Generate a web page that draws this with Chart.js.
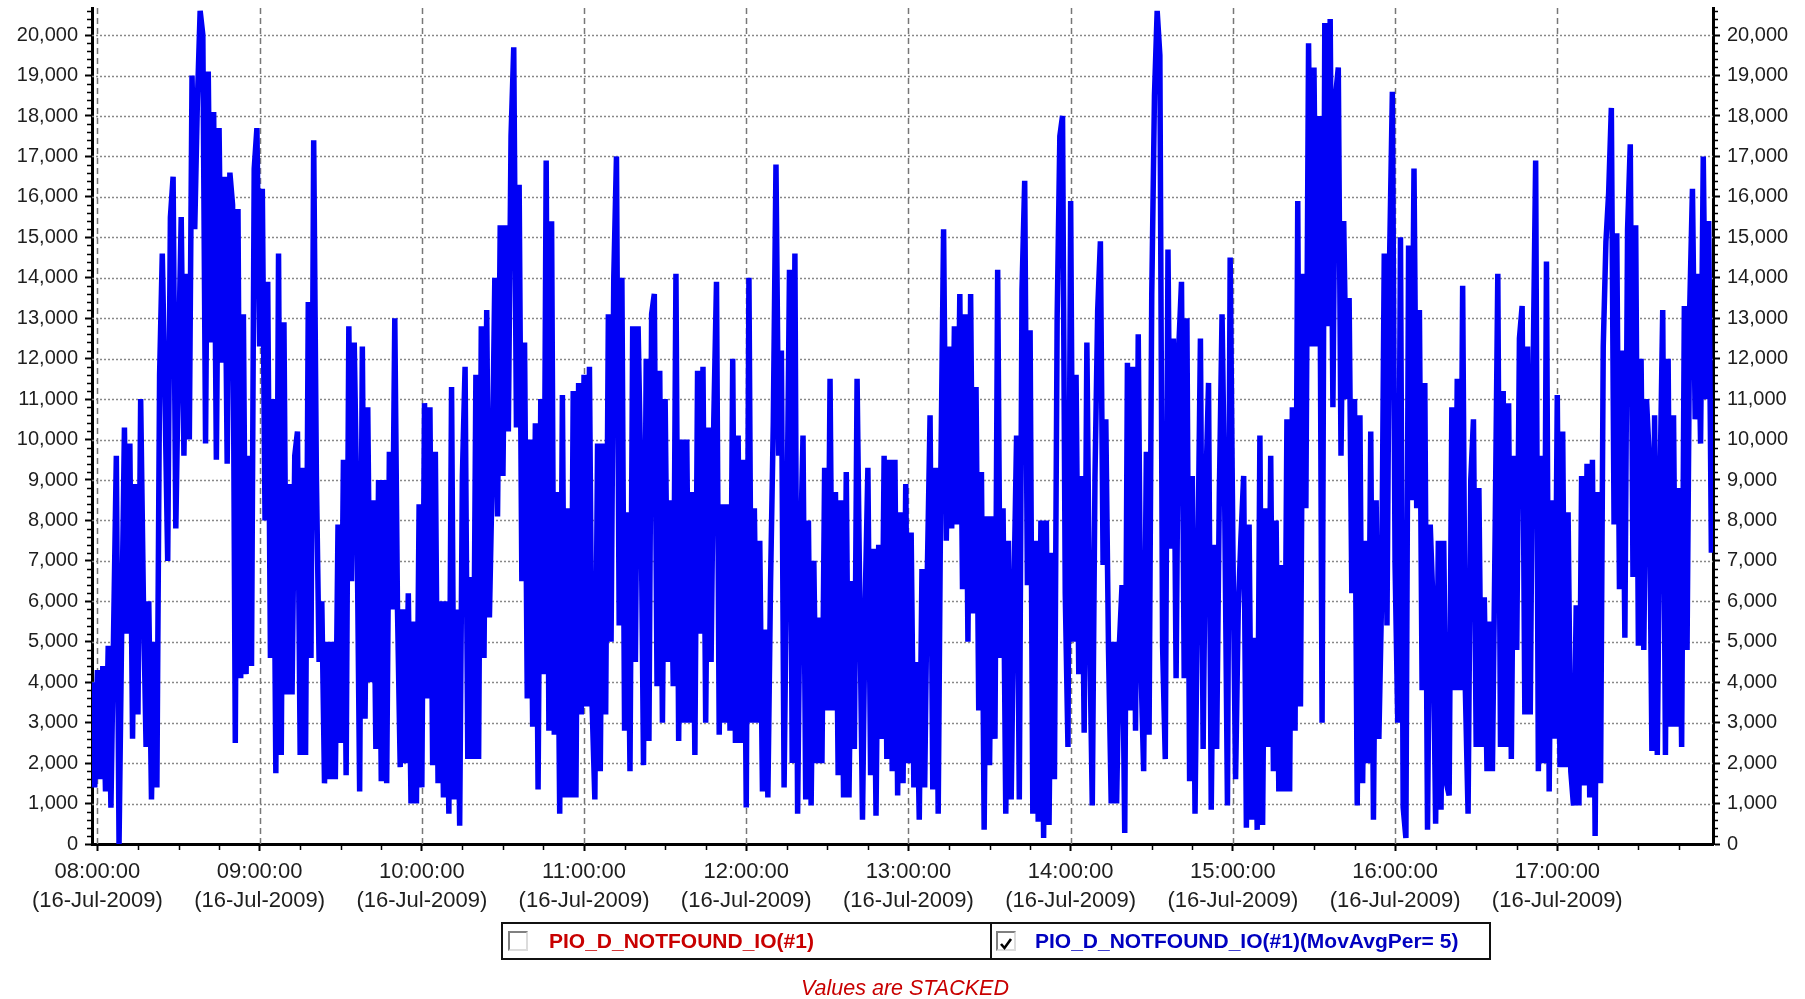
<!DOCTYPE html>
<html>
<head>
<meta charset="utf-8">
<title>PIO_D_NOTFOUND_IO</title>
<script src="https://cdn.jsdelivr.net/npm/chart.js@4.4.0/dist/chart.umd.min.js"></script>
<style>
  html, body { margin: 0; padding: 0; background: #fff; }
  #wrap { position: relative; width: 1805px; height: 999px; overflow: hidden; }
  #chart { position: absolute; left: 0; top: 0; }
  #legend {
    position: absolute; left: 501px; top: 922px; width: 986px; height: 34px;
    border: 2px solid #111; display: flex;
    font: bold 21px "Liberation Sans", Arial, sans-serif;
  }
  .cell { position: relative; height: 34px; box-sizing: border-box; }
  .cell.first { width: 489px; border-right: 2px solid #111; color: #c80000; }
  .cell.second { flex: 1; color: #0000c0; }
  .box {
    position: absolute; top: 7px; width: 16px; height: 16px; background: #fff;
    border-top: 2px solid #808080; border-left: 2px solid #808080;
    border-bottom: 2px solid #dcdcdc; border-right: 2px solid #dcdcdc;
  }
  .label { position: absolute; top: 0; line-height: 34px; white-space: nowrap; }
  #note {
    position: absolute; left: 700px; width: 410px; top: 976px; text-align: center;
    font: italic 21.5px "Liberation Sans", Arial, sans-serif; color: #c80000;
  }
</style>
</head>
<body>
<div id="wrap">
  <canvas id="chart" width="1805" height="999"></canvas>
  <div id="legend">
    <div class="cell first">
      <div class="box" style="left:5px"></div>
      <div class="label" style="left:46px">PIO_D_NOTFOUND_IO(#1)</div>
    </div>
    <div class="cell second">
      <div class="box" style="left:4px">
        <svg width="16" height="16" viewBox="0 0 16 16"><path d="M3 8 L6.5 12 L13 3" fill="none" stroke="#000" stroke-width="2.6"/></svg>
      </div>
      <div class="label" style="left:43px">PIO_D_NOTFOUND_IO(#1)(MovAvgPer= 5)</div>
    </div>
  </div>
  <div id="note">Values are STACKED</div>
</div>
<script>
// minutes after midnight of the first sample (07:58), one sample per minute
var startMinute = 478;
var xMin = 478, xMax = 1077.6;
var yMax = 20670;

var hourTicks = [480, 540, 600, 660, 720, 780, 840, 900, 960, 1020];
var hourLabels = ['08:00:00', '09:00:00', '10:00:00', '11:00:00', '12:00:00',
                  '13:00:00', '14:00:00', '15:00:00', '16:00:00', '17:00:00'];
var dateLabel = '(16-Jul-2009)';
var yTicks = [0, 1000, 2000, 3000, 4000, 5000, 6000, 7000, 8000, 9000, 10000,
              11000, 12000, 13000, 14000, 15000, 16000, 17000, 18000, 19000, 20000];

// PIO_D_NOTFOUND_IO(#1)(MovAvgPer= 5), 07:58 .. 17:57
var movAvg = [
  4000, 1400,
  4300, 1600, 4400, 1300, 4900, 900, 5300, 9600, 0, 5400,
  10300, 5200, 9900, 2600, 8900, 3200, 11000, 6100, 2400, 6000,
  1100, 5000, 1400, 11600, 14600, 11000, 7000, 15500, 16500, 7800,
  12000, 15500, 9600, 14100, 10000, 19000, 15200, 18400, 20600, 20000,
  9900, 19100, 12400, 18100, 9500, 17700, 11900, 16500, 9400, 16600,
  15800, 2500, 15700, 4100, 13100, 4200, 9600, 4400, 16700, 17700,
  12300, 16200, 8000, 13900, 4600, 11000, 1750, 14600, 2200, 12900,
  3700, 8900, 3700, 9600, 10200, 2200, 9300, 2200, 13400, 4600,
  17400, 9100, 4500, 6000, 1500, 5000, 1600, 5000, 1600, 7900,
  2500, 9500, 1700, 12800, 6500, 12400, 8200, 1300, 12300, 3100,
  10800, 4000, 8500, 2350, 9000, 1550, 9000, 1500, 9700, 5800,
  13000, 5800, 1900, 5800, 2000, 6200, 1000, 5500, 1000, 8400,
  1400, 10900, 3600, 10800, 1950, 9700, 1500, 6000, 1150, 6000,
  750, 11300, 1100, 5800, 450, 9100, 11800, 2100, 6600, 2100,
  11600, 2100, 12800, 4600, 13200, 5600, 9000, 14000, 8100, 15300,
  9100, 15300, 10200, 17500, 19700, 10300, 16300, 6500, 12400, 3600,
  10000, 2900, 10400, 1350, 11000, 4200, 16900, 2800, 15400, 2700,
  8700, 750, 11100, 1150, 8300, 1150, 11200, 1150, 11400, 3200,
  11600, 3400, 11800, 3400, 1100, 9900, 1800, 9900, 3200, 13100,
  5000, 14000, 17000, 5400, 14000, 2800, 8200, 1800, 12800, 4500,
  12800, 9100, 1950, 12000, 2550, 13100, 13600, 3900, 11700, 3000,
  11000, 4500, 8500, 3900, 14100, 2550, 10000, 3000, 10000, 3000,
  8700, 2200, 11700, 5200, 11800, 3000, 10300, 4500, 10500, 13900,
  2700, 8400, 3000, 8400, 2800, 12000, 2500, 10100, 2500, 9500,
  900, 14000, 3000, 8300, 3000, 7500, 1300, 5300, 1150, 6500,
  10400, 16800, 9600, 12200, 1400, 7500, 14200, 2000, 14600, 750,
  7000, 10100, 1100, 8000, 950, 7000, 2000, 5600, 2000, 9300,
  3300, 11500, 3300, 8700, 1700, 8500, 1150, 9200, 1150, 6500,
  2350, 11500, 6000, 600, 6000, 9300, 1700, 7300, 700, 7400,
  2600, 9600, 2100, 9500, 1800, 9500, 1200, 8200, 1500, 8900,
  2000, 7700, 1400, 4500, 600, 6800, 1400, 6800, 10600, 1350,
  9300, 750, 9300, 15200, 7500, 12300, 7800, 12800, 7900, 13600,
  6300, 13100, 5000, 13600, 5700, 11300, 3300, 9200, 350, 8100,
  1950, 8100, 2600, 14200, 4600, 8300, 750, 7500, 1100, 6200,
  10100, 1100, 13700, 16400, 6400, 12700, 750, 7500, 550, 8000,
  150, 8000, 470, 7200, 1600, 13000, 17500, 18000, 6200, 2400,
  15900, 5000, 11600, 4200, 9100, 2750, 12400, 5400, 950, 9100,
  13200, 14900, 6900, 10500, 4800, 1000, 5000, 1000, 4900, 6400,
  270, 11900, 3300, 11800, 2800, 12600, 4400, 1800, 9700, 2700,
  13600, 18500, 20600, 19500, 4900, 2100, 14700, 7300, 12500, 4100,
  12300, 13900, 4100, 13000, 1550, 9100, 750, 6700, 12500, 2350,
  8800, 11400, 850, 7400, 2350, 8700, 13100, 8300, 950, 14500,
  7400, 1600, 5800, 7600, 9100, 400, 7900, 600, 5100, 350,
  10100, 470, 8300, 2400, 9600, 1800, 8000, 1300, 6900, 1300,
  10500, 1300, 10800, 2800, 15900, 3400, 14100, 8300, 19800, 12300,
  19200, 12300, 18000, 3000, 20300, 12800, 20400, 10800, 18500, 19200,
  9600, 15400, 11000, 13500, 6200, 11000, 950, 10600, 1500, 7500,
  2000, 10200, 600, 8500, 2600, 6000, 14600, 5400, 14600, 18600,
  6900, 3000, 15000, 900, 150, 14800, 8500, 16700, 8300, 13200,
  3800, 11400, 350, 7900, 6000, 500, 7500, 850, 7500, 1500,
  1200, 10800, 3800, 11500, 3800, 13800, 3800, 750, 9000, 10500,
  2400, 8800, 2400, 6100, 1800, 5500, 1800, 7600, 14100, 2400,
  11200, 2400, 10900, 2100, 9600, 4800, 12500, 13300, 3200, 12300,
  3200, 11400, 16900, 1800, 9600, 2000, 14400, 1300, 8500, 2600,
  11100, 1900, 10200, 1900, 8200, 1800, 950, 5900, 950, 9100,
  1450, 9400, 1150, 9500, 200, 8700, 1500, 12300, 14900, 16100,
  18200, 7900, 15100, 6300, 12200, 5100, 15200, 17300, 6600, 15300,
  4900, 12000, 4800, 11000, 9600, 2300, 10600, 2200, 8900, 13200,
  2200, 12000, 2900, 10600, 2900, 8800, 2400, 13300, 4800, 13300,
  16200, 10500, 14100, 9900, 17000, 11000, 15400, 7200
];

var tickFont = { family: '"Liberation Sans", Arial, sans-serif', size: 20 };

function yAxis(pos) {
  return {
    type: 'linear', position: pos, min: 0, max: yMax,
    afterBuildTicks: function(s) { s.ticks = yTicks.map(function(v){ return {value: v}; }); },
    afterFit: function(s) { s.width = 92; s.paddingTop = 0; s.paddingBottom = 0; },
    grid: { drawOnChartArea: false, drawTicks: true, tickLength: 7, tickColor: '#000', tickWidth: 2 },
    border: { display: true, color: '#000', width: 3 },
    ticks: {
      autoSkip: false, padding: 7, color: '#1e1e1e', font: tickFont,
      callback: function(v) { return Number(v).toLocaleString('en-US'); }
    }
  };
}

var gridLines = {
  id: 'gridLines',
  beforeDatasetsDraw: function(chart) {
    var ctx = chart.ctx, a = chart.chartArea, x = chart.scales.x, y = chart.scales.y;
    ctx.save();
    ctx.lineWidth = 1.5;
    ctx.strokeStyle = '#888';
    ctx.setLineDash([2, 2]);
    yTicks.forEach(function(v) {
      if (v === 0) return;
      var py = Math.round(y.getPixelForValue(v)) + 0.5;
      ctx.beginPath(); ctx.moveTo(a.left, py); ctx.lineTo(a.right, py); ctx.stroke();
    });
    ctx.strokeStyle = '#777';
    ctx.setLineDash([6, 4]);
    hourTicks.forEach(function(v) {
      var px = Math.round(x.getPixelForValue(v)) + 0.5;
      ctx.beginPath(); ctx.moveTo(px, a.top); ctx.lineTo(px, a.bottom); ctx.stroke();
    });
    ctx.restore();
  },
  afterDraw: function(chart) {
    // minor ticks: 200 on the value axes, 15 minutes on the time axis
    var ctx = chart.ctx, a = chart.chartArea, x = chart.scales.x, y = chart.scales.y;
    ctx.save();
    ctx.strokeStyle = '#000';
    ctx.lineWidth = 1.5;
    ctx.beginPath();
    for (var v = 200; v <= yMax; v += 200) {
      if (v % 1000 === 0) continue;
      var py = Math.round(y.getPixelForValue(v)) + 0.5;
      ctx.moveTo(a.left - 5, py); ctx.lineTo(a.left - 1, py);
      ctx.moveTo(a.right + 1, py); ctx.lineTo(a.right + 5, py);
    }
    for (var m = 495; m < xMax; m += 15) {
      if (m % 60 === 0) continue;
      var px = Math.round(x.getPixelForValue(m)) + 0.5;
      ctx.moveTo(px, a.bottom + 1); ctx.lineTo(px, a.bottom + 6);
    }
    ctx.stroke();
    ctx.restore();
  }
};

new Chart(document.getElementById('chart'), {
  type: 'line',
  data: {
    datasets: [{
      label: 'PIO_D_NOTFOUND_IO(#1)(MovAvgPer= 5)',
      data: movAvg.map(function(v, i) { return {x: startMinute + i, y: v}; }),
      borderColor: '#0000f5',
      borderWidth: 5.5,
      borderJoinStyle: 'bevel',
      pointRadius: 0,
      tension: 0,
      fill: false
    }]
  },
  options: {
    responsive: false,
    animation: false,
    events: [],
    layout: { padding: { top: 8, left: 0, right: 0, bottom: 0 } },
    plugins: { legend: { display: false }, tooltip: { enabled: false } },
    scales: {
      x: {
        type: 'linear', position: 'bottom', min: xMin, max: xMax,
        afterBuildTicks: function(s) { s.ticks = hourTicks.map(function(v){ return {value: v}; }); },
        afterFit: function(s) { s.height = 155; s.paddingLeft = 0; s.paddingRight = 0; },
        grid: { drawOnChartArea: false, drawTicks: true, tickLength: 7, tickColor: '#000', tickWidth: 2 },
        border: { display: true, color: '#000', width: 3 },
        ticks: {
          autoSkip: false, maxRotation: 0, padding: 7, color: '#1e1e1e',
          font: { family: '"Liberation Sans", Arial, sans-serif', size: 22, lineHeight: 1.3 },
          callback: function(v, i) { return [hourLabels[i], dateLabel]; }
        }
      },
      y: yAxis('left'),
      y2: yAxis('right')
    }
  },
  plugins: [gridLines]
});
</script>
</body>
</html>
